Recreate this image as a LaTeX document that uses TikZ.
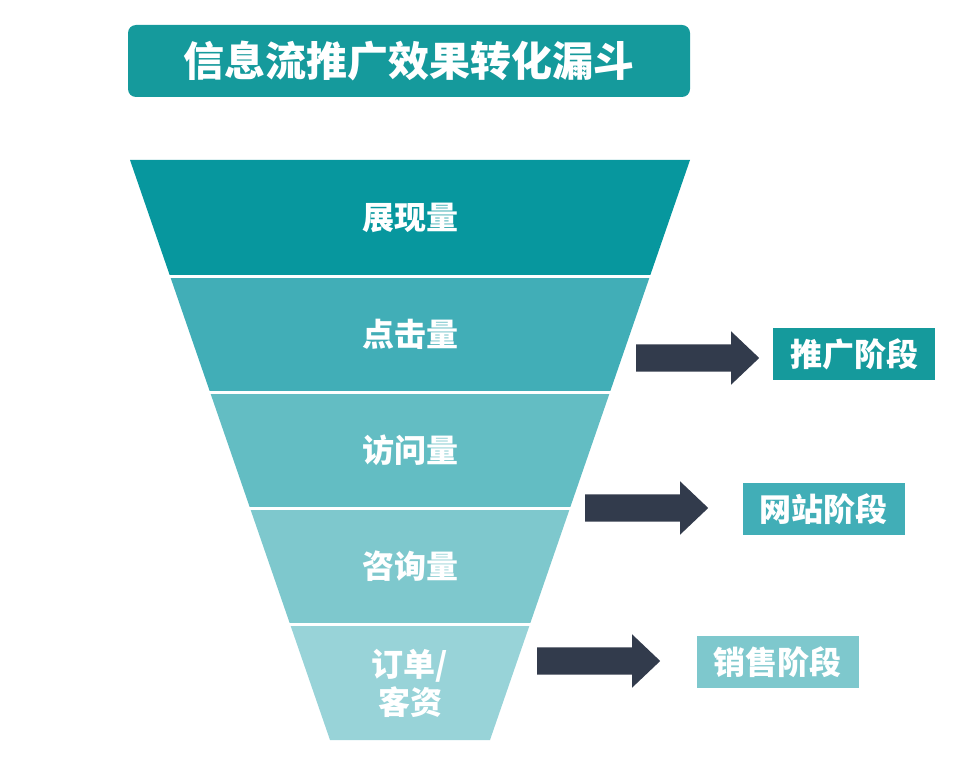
\documentclass[tikz,border=0pt]{standalone}
\usepackage{fontspec}
\newfontfamily\cjk{Noto Sans CJK SC}
\usetikzlibrary{shapes.arrows}

\definecolor{funnelteal}{HTML}{159A9C}
\definecolor{funnelun}{HTML}{07979E}
\definecolor{funneldeux}{HTML}{41AEB7}
\definecolor{funneltrois}{HTML}{63BDC3}
\definecolor{funnelquatre}{HTML}{7EC8CD}
\definecolor{funnelcinq}{HTML}{98D3D8}
\definecolor{funnelnuit}{HTML}{323B4C}

\begin{document}
\begin{tikzpicture}[x=1pt,y=-1pt,
  couchetxt/.style={text=white, align=center, font=\cjk\bfseries\fontsize{32}{38}\selectfont},
  etape/.style={text=white, minimum width=162pt, minimum height=52pt, inner sep=0pt,
                font=\cjk\bfseries\fontsize{32}{38}\selectfont},
  grossefleche/.style={single arrow, fill=funnelnuit, anchor=tail, inner xsep=0pt,
                inner ysep=13.5pt, minimum height=123pt, single arrow head extend=13pt,
                single arrow tip angle=87}]
\useasboundingbox (0,0) rectangle (971,762);

% titre
\node[fill=funnelteal, rounded corners=8pt, minimum width=562pt, minimum height=72pt,
      text=white, font=\cjk\bfseries\fontsize{41}{48}\selectfont] (titre) at (409,61)
      {信息流推广效果转化漏斗};

% entonnoir
\foreach \ya/\col in {160/funnelun, 276/funneldeux, 392/funneltrois, 508/funnelquatre, 624/funnelcinq}{
  \pgfmathsetmacro\yb{\ya+116}
  \fill[\col] ({130+0.34483*(\ya-160)},\ya) -- ({690-0.34483*(\ya-160)},\ya)
    -- ({690-0.34483*(\yb-160)},\yb) -- ({130+0.34483*(\yb-160)},\yb) -- cycle;
}
\foreach \ys in {276,392,508,624}
  \draw[white, line width=3pt] (100,\ys) -- (720,\ys);

\node[couchetxt] (l1) at (410,218) {展现量};
\node[couchetxt] (l2) at (410,334) {点击量};
\node[couchetxt] (l3) at (410,450) {访问量};
\node[couchetxt] (l4) at (410,566) {咨询量};
\node[couchetxt] (l5) at (410,683) {订单/\\客资};

% etapes
\node[etape, fill=funnelteal] (st1) at (854,354) {推广阶段};
\node[etape, fill=funneldeux] (st2) at (823.5,509) {网站阶段};
\node[etape, fill=funnelquatre] (st3) at (777.5,662) {销售阶段};

\node[grossefleche] (f1) at (636,358) {};
\node[grossefleche] (f2) at (585,508) {};
\node[grossefleche] (f3) at (537,661) {};
\end{tikzpicture}
\end{document}
